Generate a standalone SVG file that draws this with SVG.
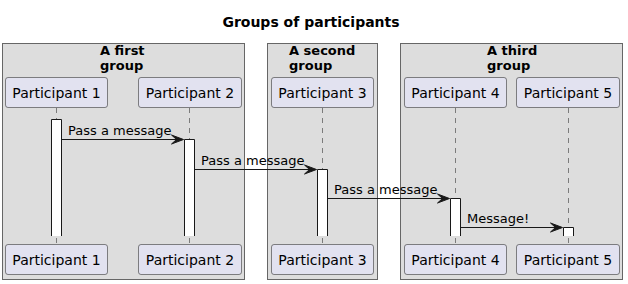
<svg xmlns="http://www.w3.org/2000/svg" width="628" height="284" viewBox="0 0 628 284">
  <style>
    .grp { fill: #DDDDDD; stroke: #666666; stroke-width: 1; }
    .grp-title { font-family: "DejaVu Sans", sans-serif; font-size: 13px; font-weight: bold; fill: #000000; }
    .title { font-family: "DejaVu Sans", sans-serif; font-size: 14px; font-weight: bold; fill: #000000; }
    .part rect { fill: #E2E2F0; stroke: #181818; stroke-width: 0.5; }
    .part text { font-family: "DejaVu Sans", sans-serif; font-size: 14px; fill: #000000; text-anchor: middle; }
    .life { stroke: #181818; stroke-width: 0.5; stroke-dasharray: 5 5; fill: none; }
    .act-fill { fill: #FFFFFF; stroke: none; }
    .act { fill: none; stroke: #181818; stroke-width: 1; }
    .msg { stroke: #181818; stroke-width: 1; fill: none; }
    .head { fill: #181818; stroke: #181818; stroke-width: 1; }
    .msg-label { font-family: "DejaVu Sans", sans-serif; font-size: 13px; fill: #000000; }
  </style>

  <text class="title" x="311" y="27" text-anchor="middle">Groups of participants</text>

  <!-- group boxes -->
  <g id="group-first">
    <rect class="grp" x="2.5" y="43.5" width="242" height="236"/>
    <text class="grp-title" x="100" y="55">A first</text>
    <text class="grp-title" x="100" y="69.5">group</text>
  </g>
  <g id="group-second">
    <rect class="grp" x="267.5" y="43.5" width="110" height="236"/>
    <text class="grp-title" x="289" y="55">A second</text>
    <text class="grp-title" x="289" y="69.5">group</text>
  </g>
  <g id="group-third">
    <rect class="grp" x="400.5" y="43.5" width="222" height="236"/>
    <text class="grp-title" x="487" y="55">A third</text>
    <text class="grp-title" x="487" y="69.5">group</text>
  </g>

  <!-- lifelines -->
  <g id="lifelines">
    <line class="life" x1="56.5" y1="108" x2="56.5" y2="244"/>
    <line class="life" x1="189.5" y1="108" x2="189.5" y2="244"/>
    <line class="life" x1="322.5" y1="108" x2="322.5" y2="244"/>
    <line class="life" x1="455.5" y1="108" x2="455.5" y2="244"/>
    <line class="life" x1="568.5" y1="108" x2="568.5" y2="244"/>
  </g>

  <!-- participants, head and foot -->
  <g id="p1" class="part">
    <rect x="5.5" y="77.5" width="102" height="30" rx="2.5"/>
    <text x="56.5" y="97.5">Participant 1</text>
    <rect x="5.5" y="244.5" width="102" height="30" rx="2.5"/>
    <text x="56.5" y="264.5">Participant 1</text>
  </g>
  <g id="p2" class="part">
    <rect x="138.5" y="77.5" width="103" height="30" rx="2.5"/>
    <text x="190" y="97.5">Participant 2</text>
    <rect x="138.5" y="244.5" width="103" height="30" rx="2.5"/>
    <text x="190" y="264.5">Participant 2</text>
  </g>
  <g id="p3" class="part">
    <rect x="271.5" y="77.5" width="102" height="30" rx="2.5"/>
    <text x="322.5" y="97.5">Participant 3</text>
    <rect x="271.5" y="244.5" width="102" height="30" rx="2.5"/>
    <text x="322.5" y="264.5">Participant 3</text>
  </g>
  <g id="p4" class="part">
    <rect x="404.5" y="77.5" width="102" height="30" rx="2.5"/>
    <text x="455.5" y="97.5">Participant 4</text>
    <rect x="404.5" y="244.5" width="102" height="30" rx="2.5"/>
    <text x="455.5" y="264.5">Participant 4</text>
  </g>
  <g id="p5" class="part">
    <rect x="516.5" y="77.5" width="103" height="30" rx="2.5"/>
    <text x="568" y="97.5">Participant 5</text>
    <rect x="516.5" y="244.5" width="103" height="30" rx="2.5"/>
    <text x="568" y="264.5">Participant 5</text>
  </g>

  <!-- activation bars: still open at the bottom when the diagram ends -->
  <g id="activations">
    <rect class="act-fill" x="51.5" y="119.5" width="10" height="116.5"/>
    <path class="act" d="M51.5,236 V119.5 H61.5 V236"/>
    <rect class="act-fill" x="184.5" y="139.5" width="10" height="96.5"/>
    <path class="act" d="M184.5,236 V139.5 H194.5 V236"/>
    <rect class="act-fill" x="317.5" y="169.5" width="10" height="66.5"/>
    <path class="act" d="M317.5,236 V169.5 H327.5 V236"/>
    <rect class="act-fill" x="450.5" y="198.5" width="10" height="37.5"/>
    <path class="act" d="M450.5,236 V198.5 H460.5 V236"/>
    <rect class="act-fill" x="563.5" y="227.5" width="10" height="8.5"/>
    <path class="act" d="M563.5,236 V227.5 H573.5 V236"/>
  </g>

  <!-- messages -->
  <g id="connectors">
    <line class="msg" x1="61.5" y1="139.5" x2="182" y2="139.5"/>
    <polygon class="head" points="183.5,139.5 171.5,135 176.5,139.5 171.5,144"/>
    <text class="msg-label" x="68" y="135">Pass a message</text>

    <line class="msg" x1="194.5" y1="169.5" x2="315" y2="169.5"/>
    <polygon class="head" points="316.5,169.5 304.5,165 309.5,169.5 304.5,174"/>
    <text class="msg-label" x="201" y="165">Pass a message</text>

    <line class="msg" x1="327.5" y1="198.5" x2="448" y2="198.5"/>
    <polygon class="head" points="449.5,198.5 437.5,194 442.5,198.5 437.5,203"/>
    <text class="msg-label" x="334" y="194">Pass a message</text>

    <line class="msg" x1="460.5" y1="227.5" x2="561" y2="227.5"/>
    <polygon class="head" points="562.5,227.5 550.5,223 555.5,227.5 550.5,232"/>
    <text class="msg-label" x="467" y="223">Message!</text>
  </g>
</svg>
